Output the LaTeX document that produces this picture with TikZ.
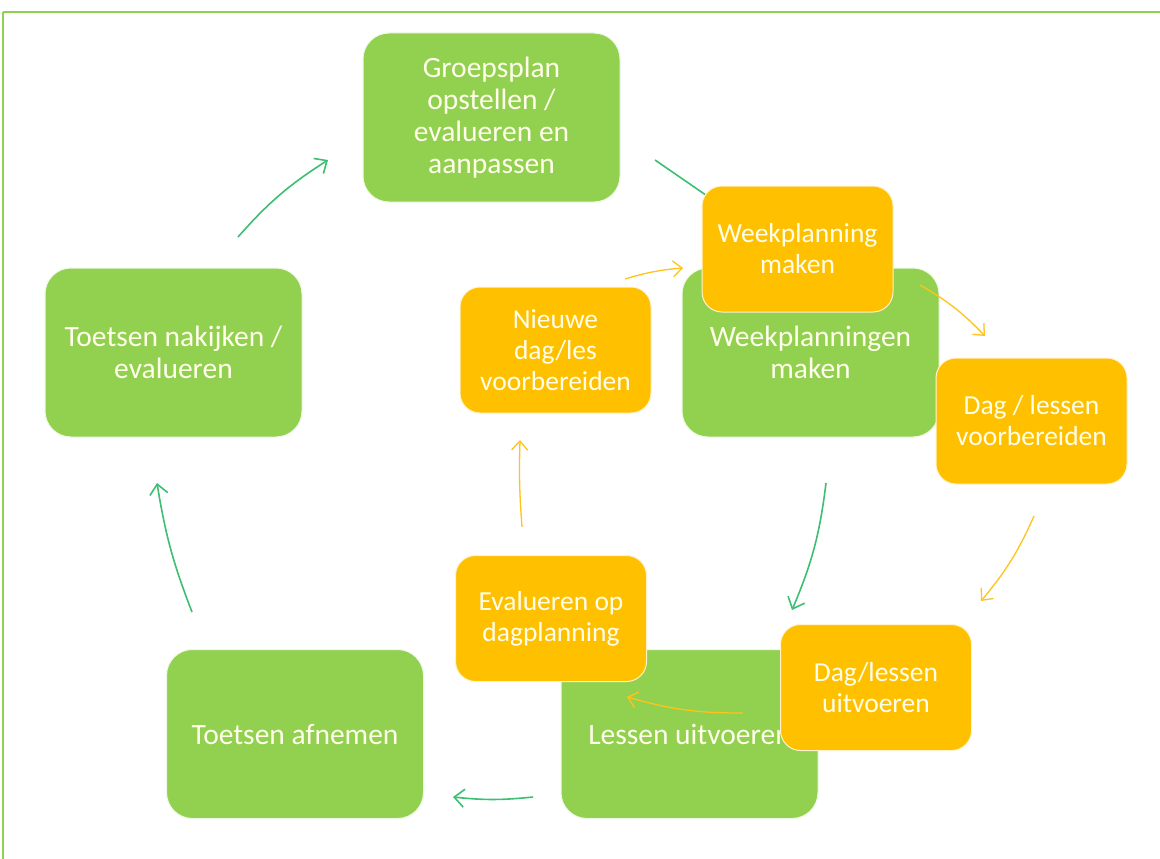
\documentclass[tikz,border=0pt]{standalone}
\usepackage{fontspec}
\setmainfont{Carlito}
\usetikzlibrary{arrows.meta}
\definecolor{gbox}{HTML}{92D050}
\definecolor{obox}{HTML}{FFC000}
\definecolor{garr}{HTML}{3CBF72}
\definecolor{oarr}{HTML}{FFC31A}
\definecolor{frame}{HTML}{92D050}
\begin{document}
\begin{tikzpicture}[x=1pt,y=-1pt,
  gnode/.style={draw=white!85!gbox,line width=1pt,fill=gbox,rounded corners=26pt,minimum width=257pt,minimum height=169pt,text=white!92!yellow,font=\fontsize{29.5}{32}\selectfont,align=center,inner sep=0pt},
  onode/.style={draw=white!80!obox,line width=1pt,fill=obox,rounded corners=20pt,minimum width=191pt,minimum height=126pt,text=white!92!yellow,font=\fontsize{27.5}{31}\selectfont,align=center,inner sep=0pt},
  garrow/.style={draw=garr,line width=1.6pt,-{Straight Barb[length=10pt,width=18pt,line width=1.6pt]}},
  oarrow/.style={draw=oarr,line width=1.3pt,-{Straight Barb[length=9pt,width=16pt,line width=1.3pt]}}]
\useasboundingbox (0,0) rectangle (1160,859);
\fill[white] (0,0) rectangle (1160,859);
\draw[frame,line width=2pt] (3,12) -- (1170,12);
\draw[frame,line width=2pt] (3,12) -- (3,870);

% green boxes
\node[gnode] (groep) at (491.5,117.5) {Groepsplan\\opstellen /\\evalueren en\\aanpassen};
\node[gnode] (nakijk) at (173.5,352.5) {Toetsen nakijken /\\evalueren};
\node[gnode] (weken) at (810.5,352.5) {Weekplanningen\\maken};
\node[gnode] (lessen) at (689.5,734) {Lessen uitvoeren};
\node[gnode] (afnemen) at (295,734) {Toetsen afnemen};

% green arrow anchors
\coordinate (g1s) at (238,237); \coordinate (g1e) at (328,160);
\coordinate (g2s) at (655,160); \coordinate (g2e) at (745,222);
\coordinate (g3s) at (826,483); \coordinate (g3e) at (792,610);
\coordinate (g4s) at (533,797); \coordinate (g4e) at (453,797);
\coordinate (g5s) at (192,612); \coordinate (g5e) at (157,483);

\draw[garrow] (g1s) to[bend left=8] (g1e);
\draw[garr,line width=1.6pt] (g2s) -- (g2e);
\draw[garrow] (g3s) to[bend left=8] (g3e);
\draw[garrow] (g4s) to[bend left=6] (g4e);
\draw[garrow] (g5s) to[bend left=6] (g5e);

% orange boxes
\node[onode] (week) at (797.5,249) {Weekplanning\\maken};
\node[onode] (dagvoor) at (1031.5,421) {Dag / lessen\\voorbereiden};
\node[onode] (daguit) at (876,687.5) {Dag/lessen\\uitvoeren};
\node[onode] (evalu) at (551,618.5) {Evalueren op\\dagplanning};
\node[onode] (nieuw) at (555.5,350) {Nieuwe\\dag/les\\voorbereiden};

% orange arrow anchors
\coordinate (o1s) at (920,285); \coordinate (o1e) at (985,336);
\coordinate (o2s) at (1034,516); \coordinate (o2e) at (981,601);
\coordinate (o3s) at (743,713); \coordinate (o3e) at (627,697);
\coordinate (o4s) at (522,527); \coordinate (o4e) at (520,440);
\coordinate (o5s) at (625,279); \coordinate (o5e) at (683,268);

\draw[oarrow] (o1s) to[bend left=8] (o1e);
\draw[oarrow] (o2s) to[bend left=8] (o2e);
\draw[oarrow] (o3s) to[bend left=8] (o3e);
\draw[oarrow] (o4s) to[bend left=3] (o4e);
\draw[oarrow] (o5s) to[bend left=6] (o5e);
\end{tikzpicture}
\end{document}
